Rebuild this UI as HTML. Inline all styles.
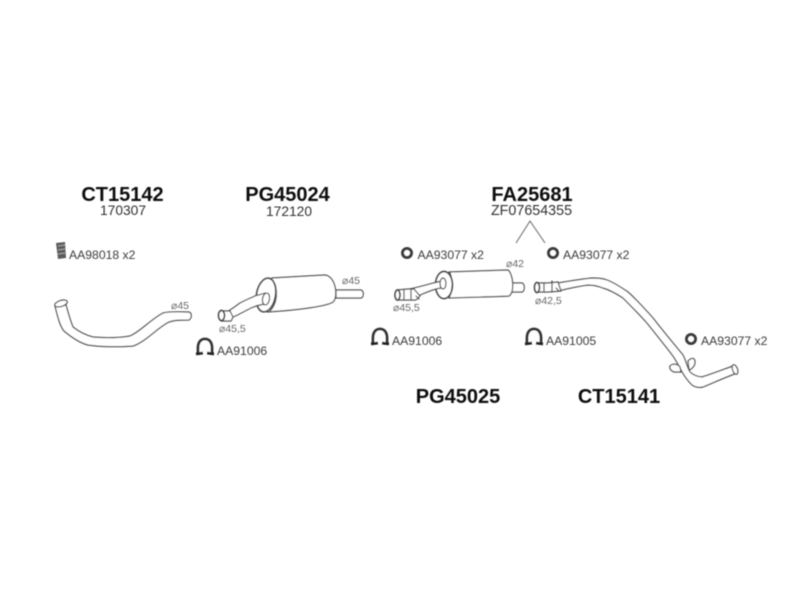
<!DOCTYPE html>
<html>
<head>
<meta charset="utf-8">
<style>
html,body{margin:0;padding:0;background:#fff;width:800px;height:600px;overflow:hidden}
svg{display:block}
text{font-family:"Liberation Sans",sans-serif}
.t{font-size:20px;font-weight:bold;fill:#111;text-anchor:middle}
.s{font-size:13.8px;fill:#333;text-anchor:middle}
.l{font-size:12.2px;fill:#3c3c3c}
.d{font-size:10.5px;fill:#666}
.p{fill:#fff;stroke:#4a4a4a;stroke-width:1.2;stroke-linejoin:round;stroke-linecap:round}
.n{fill:none;stroke:#4a4a4a;stroke-width:1.2;stroke-linecap:round}
.r{fill:none;stroke:#3a3a3a;stroke-width:2.8}
.a{fill:#fff;stroke:#333;stroke-width:2.8}
.f{stroke:#222;stroke-width:2.8}
</style>
</head>
<body>
<svg width="800" height="600" viewBox="0 0 800 600" xmlns="http://www.w3.org/2000/svg">
<defs><filter id="b" x="0" y="0" width="100%" height="100%"><feGaussianBlur stdDeviation="0.45"/></filter></defs>
<g filter="url(#b)">

<text class="t" x="122.500" y="201">CT15142</text>
<text class="s" x="123" y="215">170307</text>
<text class="t" x="287.500" y="201">PG45024</text>
<text class="s" x="289" y="216">172120</text>
<text class="t" x="532" y="201">FA25681</text>
<text class="s" x="531.500" y="215" style="font-size:14.300px">ZF07654355</text>
<text class="t" x="458" y="403">PG45025</text>
<text class="t" x="619" y="403">CT15141</text>

<path d="M516 243L530 221L545 243" fill="none" stroke="#666" stroke-width="1"/>

<!-- rubber mount -->
<path d="M56 243L65 242L66 258L58 259Z" fill="#5c5c5c"/>
<path d="M58 246L65 245M58 250L65 249M58 254L65 253" stroke="#aaa" stroke-width="1"/>
<text class="l" x="69" y="259">AA98018 x2</text>

<!-- pipe 1 -->
<path class="p" d="M55 306C58 318 60 326 64 331C70 336 80 343 88 345C100 347 120 347 133 346C145 342 155 330 167 323C172 320 180 320 189 320C192 318 192 313 189 312C180 312 170 311 163 313C150 320 140 332 130 336C118 338 105 338 93 337C85 335 78 331 73 327C70 320 68 312 66 305Z"/>
<ellipse class="p" cx="61" cy="303.500" rx="6.500" ry="3" transform="rotate(-18 61 303.500)"/>
<text class="d" x="171" y="309">⌀45</text>

<!-- muffler PG45024 -->
<path class="p" d="M336 290H361C364 291 364 297 361 298H336Z"/>
<path class="p" d="M272 278L325 275C335 276 339 296 333 302C327 306 300 310 267 312Z"/>
<ellipse class="p" cx="266" cy="295" rx="9.500" ry="17" transform="rotate(10 266 295)" style="stroke-width:1.700px"/>
<path class="n" d="M275 284C278 295 276 305 270 311"/>
<path class="p" d="M265 293C260 295 256 295 253 297C248 299 244 301 240 303C236 306 232 309 227 312L233 317C238 315 243 312 247 310C252 307 258 305 265 304Z"/>
<ellipse class="p" cx="266" cy="299" rx="3.500" ry="6" transform="rotate(10 266 299)"/>
<path class="p" d="M221 311L230 311L233 317L231 321L221 321Z"/>
<ellipse class="p" cx="221.500" cy="315.500" rx="3" ry="5" style="stroke-width:1.700px"/>
<text class="d" x="219" y="332">⌀45,5</text>

<!-- clamps -->
<path class="a" d="M198 353V348C198 342 201 339 205 339C209 339 212 342 212 348V353"/><path class="f" d="M196 354L203 353M207 353L214 354"/>
<text class="l" x="217" y="355">AA91006</text>

<path class="a" d="M373 343V338C373 332 376 329 380 329C384 329 387 332 387 338V343"/><path class="f" d="M371 344L378 343M382 343L389 344"/>
<text class="l" x="392" y="345">AA91006</text>

<path class="a" d="M527 343V338C527 332 530 329 534 329C538 329 541 332 541 338V343"/><path class="f" d="M525 344L532 343M536 343L543 344"/>
<text class="l" x="546" y="345">AA91005</text>

<!-- rings -->
<circle class="r" cx="407" cy="253" r="4.600"/>
<text class="l" x="417.500" y="259">AA93077 x2</text>
<circle class="r" cx="553" cy="253" r="4.600"/>
<text class="l" x="563" y="259">AA93077 x2</text>
<circle class="r" cx="691" cy="339" r="4.600"/>
<text class="l" x="701" y="345">AA93077 x2</text>

<!-- muffler PG45025 -->
<path class="p" d="M511 283H522C525 284 525 291 522 292H511Z"/>
<path class="p" d="M449 272L508 270C513 274 515 292 509 296C495 297 470 297 449 298Z"/>
<ellipse class="p" cx="444" cy="285" rx="8.500" ry="13.500" style="stroke-width:1.700px"/>
<path class="n" d="M450 273C453 280 453 290 449 298"/>
<path class="p" d="M441 281C433 283 420 287 405 290L412 298L420 295C427 292 433 289 441 288Z"/>
<ellipse class="p" cx="443" cy="283.500" rx="3" ry="5.500"/>
<path class="p" d="M397 290L408 289L414 289L420 296L416 300H406L397 300Z"/>
<ellipse class="p" cx="397.500" cy="295" rx="2.500" ry="5" style="stroke-width:1.700px"/>
<path class="n" d="M404 290V299M411 290V299M416 296L419 299"/>
<text class="d" x="393" y="311">⌀45,5</text>
<text class="d" x="506" y="267">⌀42</text>
<text class="d" x="342" y="284">⌀45</text>

<!-- pipe CT15141 -->
<path class="p" d="M558 283C570 281 582 279 592 278C597 278 602 278 607 280C615 283 622 288 628 292C637 300 645 309 653 318C663 331 673 343 683 355C686 361 687 367 690 372C693 375 698 377 702 377C712 374 722 370 733 366L737 373C726 377 715 382 703 387C699 388 695 387 692 385C687 380 683 374 680 368C677 362 674 357 670 352C663 343 655 333 647 323C639 314 631 306 623 298C617 294 610 290 603 288C598 286 593 285 588 285C580 286 570 288 558 291Z"/>
<ellipse class="p" cx="735" cy="369.500" rx="2.500" ry="5" transform="rotate(-20 735 369.500)"/>
<path class="p" d="M670 366C673 363 678 364 680 367L681 372L674 372C671 371 669 368 670 366Z"/>
<path class="p" d="M688 361C692 357 695 358 695 362C695 366 692 369 689 370Z"/>
<path class="p" d="M537 283L548 283L558 282L561 291L548 292L537 292Z"/>
<ellipse class="p" cx="537" cy="287.500" rx="2.500" ry="5" style="stroke-width:1.700px"/>
<path class="n" d="M544 283V292M552 281V292M556 288L559 291"/>
<text class="d" x="535" y="304">⌀42,5</text>
</g>
</svg>
</body>
</html>
